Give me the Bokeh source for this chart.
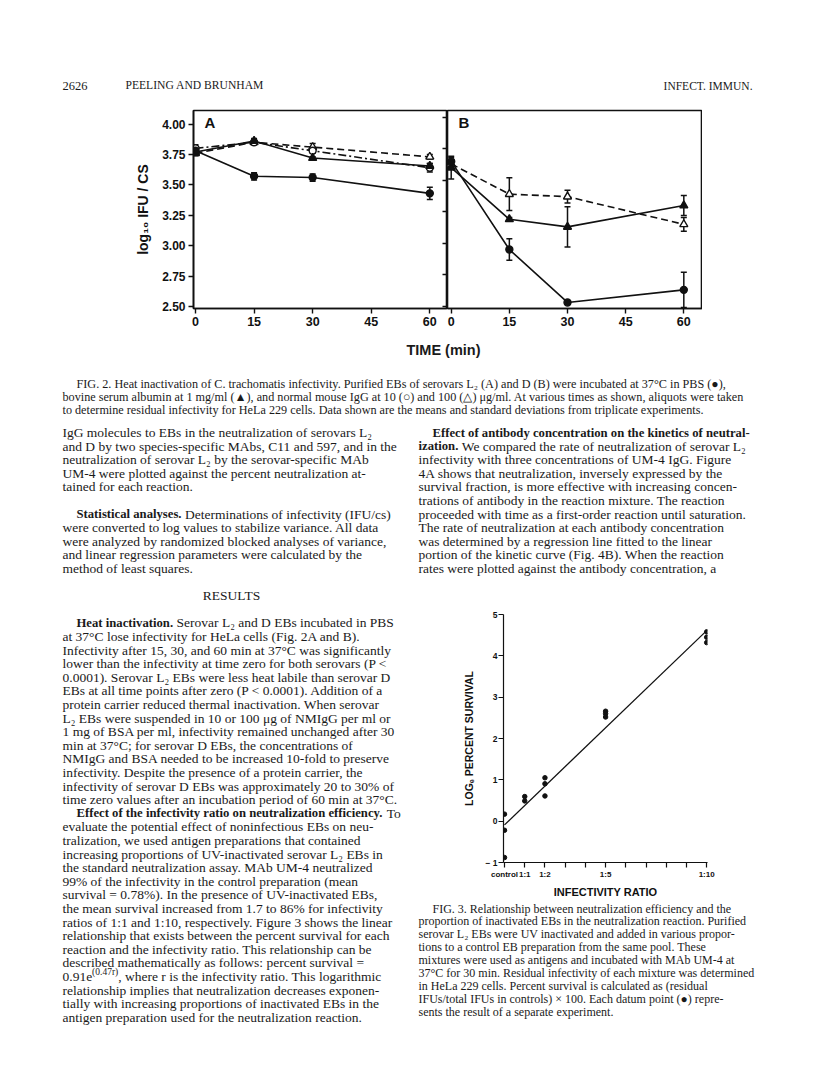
from bokeh.plotting import figure
from bokeh.models import (Range1d, LinearAxis, FixedTicker, Whisker, ColumnDataSource,
                          TeeHead, Label, Spacer)
from bokeh.layouts import row, column
from bokeh.embed import file_html
from bokeh.resources import INLINE
from bokeh.core.properties import value

# ---------------- Fig. 2 data (log10 IFU/cs) ----------------
times = [0, 15, 30, 60]
time_ticks = [0, 15, 30, 45, 60]
y2_ticks = [2.50, 2.75, 3.00, 3.25, 3.50, 3.75, 4.00]

A_pbs = [3.78, 3.57, 3.56, 3.43]
A_pbs_sd = [0.02, 0.03, 0.03, 0.05]
A_bsa = [3.77, 3.86, 3.72, 3.655]
A_bsa_sd = [0.02, 0.02, 0.01, 0.02]
A_igg10 = [3.80, 3.85, 3.78, 3.64]
A_igg10_sd = [0.03, 0.01, 0.02, 0.035]
A_igg100 = [3.76, 3.85, 3.81, 3.73]
A_igg100_sd = [0.02, 0.02, 0.03, 0.02]

B_pbs = [3.65, 2.95, 2.53, 2.63]
B_pbs_sd = [0.03, 0.085, 0.015, 0.14]
B_bsa = [3.60, 3.19, 3.13, 3.30]
B_bsa_sd = [0.09, 0.015, 0.16, 0.08]
B_igg100 = [3.63, 3.39, 3.37, 3.15]
B_igg100_sd = [0.03, 0.13, 0.05, 0.055]

# ---------------- Fig. 3 data (loge percent survival) ----------------
ratio_x = [0, 0, 0, 1, 1, 2, 2, 2, 5, 5, 5, 10, 10, 10]
surv_y = [0.17, -0.22, -0.88, 0.595, 0.49, 1.05, 0.905, 0.61, 2.66, 2.60, 2.52, 4.58, 4.45, 4.32]
fit_x = [0, 10]
fit_y = [-0.09, 4.61]
ratio_ticks = list(range(0, 11))
ratio_labels = {0: "control", 1: "1:1", 2: "1:2", 5: "1:5", 10: "1:10"}
y3_ticks = [-1, 0, 1, 2, 3, 4, 5]

# ---------------- page text ----------------
header_left_num = "2626"
header_left = "PEELING AND BRUNHAM"
header_right = "INFECT. IMMUN."
x_title2 = "TIME (min)"

cap2 = [
    "FIG. 2. Heat inactivation of C. trachomatis infectivity. Purified EBs of serovars L\u2082 (A) and D (B) were incubated at 37\u00b0C in PBS (\u25cf),",
    "bovine serum albumin at 1 mg/ml (\u25b2), and normal mouse IgG at 10 (\u25cb) and 100 (\u25b3) \u03bcg/ml. At various times as shown, aliquots were taken",
    "to determine residual infectivity for HeLa 229 cells. Data shown are the means and standard deviations from triplicate experiments.",
]

left_lines = [
    (0, [("IgG molecules to EBs in the neutralization of serovars L\u2082", "r")]),
    (0, [("and D by two species-specific MAbs, C11 and 597, and in the", "r")]),
    (0, [("neutralization of serovar L\u2082 by the serovar-specific MAb", "r")]),
    (0, [("UM-4 were plotted against the percent neutralization at-", "r")]),
    (0, [("tained for each reaction.", "r")]),
    None,
    (1, [("Statistical analyses.", "b"), ("Determinations of infectivity (IFU/cs)", "r")]),
    (0, [("were converted to log values to stabilize variance. All data", "r")]),
    (0, [("were analyzed by randomized blocked analyses of variance,", "r")]),
    (0, [("and linear regression parameters were calculated by the", "r")]),
    (0, [("method of least squares.", "r")]),
    None,
    (2, [("RESULTS", "r")]),
    None,
    (1, [("Heat inactivation.", "b"), ("Serovar L\u2082 and D EBs incubated in PBS", "r")]),
    (0, [("at 37\u00b0C lose infectivity for HeLa cells (Fig. 2A and B).", "r")]),
    (0, [("Infectivity after 15, 30, and 60 min at 37\u00b0C was significantly", "r")]),
    (0, [("lower than the infectivity at time zero for both serovars (P <", "r")]),
    (0, [("0.0001). Serovar L\u2082 EBs were less heat labile than serovar D", "r")]),
    (0, [("EBs at all time points after zero (P < 0.0001). Addition of a", "r")]),
    (0, [("protein carrier reduced thermal inactivation. When serovar", "r")]),
    (0, [("L\u2082 EBs were suspended in 10 or 100 \u03bcg of NMIgG per ml or", "r")]),
    (0, [("1 mg of BSA per ml, infectivity remained unchanged after 30", "r")]),
    (0, [("min at 37\u00b0C; for serovar D EBs, the concentrations of", "r")]),
    (0, [("NMIgG and BSA needed to be increased 10-fold to preserve", "r")]),
    (0, [("infectivity. Despite the presence of a protein carrier, the", "r")]),
    (0, [("infectivity of serovar D EBs was approximately 20 to 30% of", "r")]),
    (0, [("time zero values after an incubation period of 60 min at 37\u00b0C.", "r")]),
    (1, [("Effect of the infectivity ratio on neutralization efficiency.", "b"), ("To", "r")]),
    (0, [("evaluate the potential effect of noninfectious EBs on neu-", "r")]),
    (0, [("tralization, we used antigen preparations that contained", "r")]),
    (0, [("increasing proportions of UV-inactivated serovar L\u2082 EBs in", "r")]),
    (0, [("the standard neutralization assay. MAb UM-4 neutralized", "r")]),
    (0, [("99% of the infectivity in the control preparation (mean", "r")]),
    (0, [("survival = 0.78%). In the presence of UV-inactivated EBs,", "r")]),
    (0, [("the mean survival increased from 1.7 to 86% for infectivity", "r")]),
    (0, [("ratios of 1:1 and 1:10, respectively. Figure 3 shows the linear", "r")]),
    (0, [("relationship that exists between the percent survival for each", "r")]),
    (0, [("reaction and the infectivity ratio. This relationship can be", "r")]),
    (0, [("described mathematically as follows: percent survival =", "r")]),
    (0, [("0.91e", "r"), ("(0.47r)", "sup"), (", where r is the infectivity ratio. This logarithmic", "r")]),
    (0, [("relationship implies that neutralization decreases exponen-", "r")]),
    (0, [("tially with increasing proportions of inactivated EBs in the", "r")]),
    (0, [("antigen preparation used for the neutralization reaction.", "r")]),
]

right_lines = [
    (1, [("Effect of antibody concentration on the kinetics of neutral-", "b")]),
    (0, [("ization.", "b"), ("We compared the rate of neutralization of serovar L\u2082", "r")]),
    (0, [("infectivity with three concentrations of UM-4 IgG. Figure", "r")]),
    (0, [("4A shows that neutralization, inversely expressed by the", "r")]),
    (0, [("survival fraction, is more effective with increasing concen-", "r")]),
    (0, [("trations of antibody in the reaction mixture. The reaction", "r")]),
    (0, [("proceeded with time as a first-order reaction until saturation.", "r")]),
    (0, [("The rate of neutralization at each antibody concentration", "r")]),
    (0, [("was determined by a regression line fitted to the linear", "r")]),
    (0, [("portion of the kinetic curve (Fig. 4B). When the reaction", "r")]),
    (0, [("rates were plotted against the antibody concentration, a", "r")]),
]

cap3 = [
    "FIG. 3. Relationship between neutralization efficiency and the",
    "proportion of inactivated EBs in the neutralization reaction. Purified",
    "serovar L\u2082 EBs were UV inactivated and added in various propor-",
    "tions to a control EB preparation from the same pool. These",
    "mixtures were used as antigens and incubated with MAb UM-4 at",
    "37\u00b0C for 30 min. Residual infectivity of each mixture was determined",
    "in HeLa 229 cells. Percent survival is calculated as (residual",
    "IFUs/total IFUs in controls) \u00d7 100. Each datum point (\u25cf) repre-",
    "sents the result of a separate experiment.",
]

# ---------------- helpers ----------------
SERIF = "Liberation Serif"
SANS = "Liberation Sans"

REG_W = dict(zip("abcdefghijklmnopqrstuvwxyz",
                 [444, 500, 444, 500, 444, 333, 500, 500, 278, 278, 500, 278, 778,
                  500, 500, 500, 500, 333, 389, 278, 500, 500, 722, 500, 500, 444]))
REG_W.update({c: 500 for c in "0123456789"})
REG_W.update({" ": 250, ".": 250, ",": 250, "(": 333, ")": 333, "-": 333})
BOLD_W = dict(zip("abcdefghijklmnopqrstuvwxyz",
                  [500, 556, 444, 556, 444, 333, 500, 556, 278, 333, 556, 278, 833,
                   556, 500, 556, 556, 444, 389, 333, 556, 500, 722, 500, 500, 444]))
BOLD_W.update({" ": 250, ".": 250, ",": 250, "-": 333, "S": 556, "H": 778, "E": 667})

BODY_FS = 13.5
BOLD_FS = 12.7
SUP_FS = 9.5
CAP_FS = 12.0
CAP2_FS = 12.2
LEAD = 13.6


def twidth(t, kind):
    tab = BOLD_W if kind == "b" else REG_W
    size = {"b": BOLD_FS, "sup": SUP_FS}.get(kind, BODY_FS)
    return sum(tab.get(c, 600) for c in t) / 1000.0 * size


def text_fig(w, h):
    f = figure(width=w, height=h, x_range=Range1d(0, w), y_range=Range1d(h, 0),
               output_backend="svg", toolbar_location=None,
               x_axis_location=None, y_axis_location=None,
               min_border_left=0, min_border_right=0, min_border_top=0, min_border_bottom=0)
    f.grid.visible = False
    f.outline_line_color = None
    return f


def put(f, xs, ys, ts, fs, style="normal", align="left", font=SERIF):
    if not ts:
        return
    f.text(x=xs, y=ys, text=ts, text_font=value(font), text_font_size=value(f"{fs}px"),
           text_font_style=style, text_align=align, text_baseline="middle", text_color="#1a1a1a")


def draw_para(f, lines, x0, x_ind, x_center, y0, lead):
    g = {"r": ([], [], []), "b": ([], [], []), "sup": ([], [], []), "c": ([], [], [])}
    for i, ln in enumerate(lines):
        if ln is None:
            continue
        mode, runs = ln
        y = y0 + i * lead
        if mode == 2:
            g["c"][0].append(x_center); g["c"][1].append(y); g["c"][2].append(runs[0][0])
            continue
        x = x_ind if mode == 1 else x0
        for t, k in runs:
            yy = y - 4.5 if k == "sup" else y
            g[k][0].append(x); g[k][1].append(yy); g[k][2].append(t)
            x += twidth(t, k)
            if k == "b":
                x += 0.25 * BODY_FS
    put(f, *g["r"], BODY_FS)
    put(f, *g["b"], BOLD_FS, style="bold")
    put(f, *g["sup"], SUP_FS)
    put(f, *g["c"], BODY_FS, align="center")


def style_axis(ax, fs="12px", tick_out=5):
    ax.major_tick_out = tick_out
    ax.major_tick_in = 0
    ax.minor_tick_out = 0
    ax.minor_tick_in = 0
    ax.axis_line_width = 1.6
    ax.major_tick_line_width = 1.4
    ax.axis_line_color = "#111111"
    ax.major_tick_line_color = "#111111"
    ax.major_label_text_font = SANS
    ax.major_label_text_font_style = "bold"
    ax.major_label_text_font_size = fs
    ax.major_label_text_color = "#111111"
    ax.axis_label_text_font = SANS
    ax.axis_label_text_font_style = "bold"
    ax.axis_label_text_color = "#111111"


# ---------------- header ----------------
hdr = text_fig(800, 92)
put(hdr, [54], [77], [header_left_num], 12.5)
put(hdr, [117], [77], [header_left], 11.6)
put(hdr, [744], [77], [header_right], 11.5, align="right")

# ---------------- Fig. 2 ----------------
fmt2 = {v: f"{v:.2f}" for v in y2_ticks}
yA = Range1d(2.4836, 4.111)
yB = Range1d(2.482, 4.054)

fa = figure(width=439, height=235, x_range=Range1d(-0.512, 64.53), y_range=yA,
            output_backend="svg", toolbar_location=None,
            min_border_left=185, min_border_right=0, min_border_top=10, min_border_bottom=27)
fb = figure(width=255, height=235, x_range=Range1d(-0.954, 64.82), y_range=yB,
            output_backend="svg", toolbar_location=None, y_axis_location=None,
            min_border_left=0, min_border_right=0, min_border_top=10, min_border_bottom=27)

for f in (fa, fb):
    f.grid.visible = False
    f.outline_line_color = "#111111"
    f.outline_line_width = 1.6
    f.xaxis.ticker = FixedTicker(ticks=time_ticks)
    style_axis(f.xaxis[0], fs="12.5px")
    f.xaxis.major_label_standoff = 3

lax = fa.left[0]
lax.ticker = FixedTicker(ticks=y2_ticks)
lax.major_label_overrides = fmt2
style_axis(lax, fs="12px")
lax.major_label_standoff = 3
lax.axis_label = "log\u2081\u2080 IFU / CS"
lax.axis_label_text_font_size = "14px"
lax.axis_label_standoff = 8

# ticks of panel B's scale, pointing into panel A along the shared border
fa.extra_y_ranges = {"b": Range1d(2.482, 4.054)}
rax = LinearAxis(y_range_name="b", ticker=FixedTicker(ticks=y2_ticks),
                 major_label_text_font_size="1px", major_label_text_color=None,
                 major_label_standoff=0, major_tick_in=5, major_tick_out=0,
                 minor_tick_in=0, minor_tick_out=0, major_tick_line_width=1.4,
                 axis_line_width=1.6, axis_line_color="#111111", major_tick_line_color="#111111")
fa.add_layout(rax, "right")


def series(f, y, sd, marker, dash, fill):
    src = ColumnDataSource(dict(x=times, y=y, lo=[a - b for a, b in zip(y, sd)],
                                hi=[a + b for a, b in zip(y, sd)]))
    f.line("x", "y", source=src, line_color="#111111", line_width=1.6, line_dash=dash)
    w = Whisker(source=src, base="x", upper="hi", lower="lo", dimension="height",
                line_color="#111111", line_width=1.5,
                upper_head=TeeHead(size=6, line_color="#111111", line_width=1.5),
                lower_head=TeeHead(size=6, line_color="#111111", line_width=1.5))
    f.add_layout(w)
    size = 7 if marker == "circle" else 8
    f.scatter("x", "y", source=src, marker=marker, size=size, fill_color=fill,
              line_color="#111111", line_width=1.4)


series(fa, A_igg100, A_igg100_sd, "triangle", "7 4", "white")
series(fa, A_igg10, A_igg10_sd, "circle", "8 3 2 3", "white")
series(fa, A_bsa, A_bsa_sd, "triangle", "solid", "#111111")
series(fa, A_pbs, A_pbs_sd, "circle", "solid", "#111111")

series(fb, B_igg100, B_igg100_sd, "triangle", "7 4", "white")
series(fb, B_bsa, B_bsa_sd, "triangle", "solid", "#111111")
series(fb, B_pbs, B_pbs_sd, "circle", "solid", "#111111")

fa.add_layout(Label(x=2.3, y=4.012, text="A", text_font=SANS, text_font_style="bold",
                    text_font_size="15px", text_baseline="middle", text_color="#111111"))
fb.add_layout(Label(x=1.9, y=3.96, text="B", text_font=SANS, text_font_style="bold",
                    text_font_size="15px", text_baseline="middle", text_color="#111111"))

fig2_row = row(fa, fb)

# ---------------- caption 2 block ----------------
c2 = text_fig(800, 87)
put(c2, [435], [14], [x_title2], 14.5, style="bold", align="center", font=SANS)
put(c2, [68, 54, 54], [48, 61, 74], cap2, CAP2_FS)

# ---------------- left column ----------------
lt = text_fig(402, 652)
draw_para(lt, left_lines, 54, 68, 223, 10, LEAD)

# ---------------- right column ----------------
rt = text_fig(398, 168)
draw_para(rt, right_lines, 8, 22, 175, 10, LEAD)

f3 = figure(width=398, height=310, x_range=Range1d(-0.05, 10.04), y_range=Range1d(-1, 5),
            output_backend="svg", toolbar_location=None,
            min_border_left=93, min_border_right=101, min_border_top=24, min_border_bottom=34)
f3.grid.visible = False
f3.outline_line_color = None
f3.xaxis.ticker = FixedTicker(ticks=ratio_ticks)
f3.xaxis.major_label_overrides = {t: ratio_labels.get(t, "") for t in ratio_ticks}
style_axis(f3.xaxis[0], fs="8px", tick_out=5)
f3.xaxis.major_label_standoff = 2
f3.xaxis.axis_label = "INFECTIVITY RATIO"
f3.xaxis.axis_label_text_font_size = "11px"
f3.xaxis.axis_label_standoff = 4
f3.yaxis.ticker = FixedTicker(ticks=y3_ticks)
f3.yaxis.major_label_overrides = {t: ("\u2212 1" if t < 0 else str(t)) for t in y3_ticks}
style_axis(f3.yaxis[0], fs="8.5px", tick_out=5)
f3.yaxis.major_label_standoff = 1
f3.yaxis.axis_label = "LOG\u2091 PERCENT SURVIVAL"
f3.yaxis.axis_label_text_font_size = "10.5px"
f3.yaxis.axis_label_standoff = 7
for ax in (f3.xaxis[0], f3.yaxis[0]):
    ax.axis_line_width = 1.2
    ax.major_tick_line_width = 1.2

f3.line(fit_x, fit_y, line_color="#111111", line_width=1.3)
f3.scatter(ratio_x, surv_y, marker="circle", size=4.5, fill_color="#111111", line_color="#111111")

c3 = text_fig(398, 174)
put(c3, [22] + [8] * (len(cap3) - 1), [8 + 12.9 * i for i in range(len(cap3))], cap3, CAP_FS)

right_col = column(row(rt), row(f3), row(c3))
bottom = row(lt, right_col)

main = column(hdr, fig2_row, c2, bottom)
page = column(Spacer(width=808, height=8), row(Spacer(width=8, height=1066), main))

open("out.html", "w").write(file_html(page, INLINE))
